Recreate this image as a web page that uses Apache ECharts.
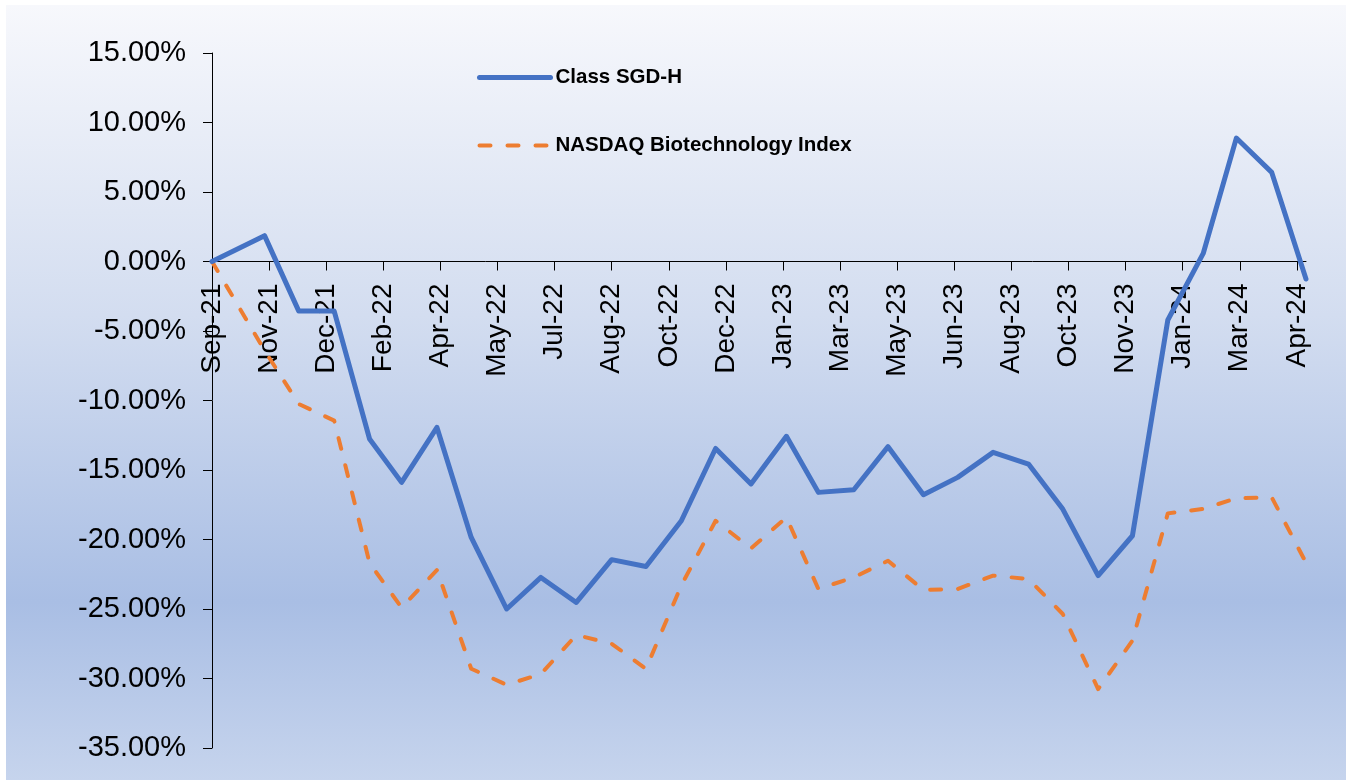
<!DOCTYPE html>
<html>
<head>
<meta charset="utf-8">
<title>Class SGD-H vs NASDAQ Biotechnology Index</title>
<script src="https://cdn.jsdelivr.net/npm/echarts@6/dist/echarts.min.js"></script>
<style>
  html, body { margin: 0; padding: 0; background: #ffffff; }
  #chart { width: 1352px; height: 780px; }
</style>
</head>
<body>
<div id="chart"></div>
<script>
// Month-end observation dates (first point is the start date of the series)
const dates = [
  '2021-09-15', '2021-10-31', '2021-11-30', '2021-12-31',
  '2022-01-31', '2022-02-28', '2022-03-31', '2022-04-30', '2022-05-31', '2022-06-30',
  '2022-07-31', '2022-08-31', '2022-09-30', '2022-10-31', '2022-11-30', '2022-12-31',
  '2023-01-31', '2023-02-28', '2023-03-31', '2023-04-30', '2023-05-31', '2023-06-30',
  '2023-07-31', '2023-08-31', '2023-09-30', '2023-10-31', '2023-11-30', '2023-12-31',
  '2024-01-31', '2024-02-29', '2024-03-31', '2024-04-30'
];

// Cumulative performance, in percent
const classSgdH = [
  0.00, 1.86, -3.57, -3.57,
  -12.77, -15.89, -11.94, -19.85, -25.00, -22.73,
  -24.53, -21.45, -21.94, -18.65, -13.45, -16.00,
  -12.58, -16.61, -16.42, -13.32, -16.78, -15.53,
  -13.73, -14.57, -17.81, -22.60, -19.73, -4.21,
  0.58, 8.88, 6.41, -1.26
];

const nasdaqBiotech = [
  0.00, -6.40, -10.25, -11.45,
  -21.70, -24.90, -22.20, -29.30, -30.45, -29.68,
  -26.87, -27.50, -29.30, -23.30, -18.65, -20.64,
  -18.41, -23.56, -22.72, -21.53, -23.63, -23.56,
  -22.60, -22.84, -25.36, -30.76, -27.28, -18.12,
  -17.80, -17.03, -16.97, -21.67
];

// Date-axis tick labels, one every 50 days from the axis start
const tickLabels = [
  'Sep-21', 'Nov-21', 'Dec-21', 'Feb-22', 'Apr-22', 'May-22', 'Jul-22',
  'Aug-22', 'Oct-22', 'Dec-22', 'Jan-23', 'Mar-23', 'May-23', 'Jun-23',
  'Aug-23', 'Oct-23', 'Nov-23', 'Jan-24', 'Mar-24', 'Apr-24'
];
const tickStepDays = 50;

const yMin = -35, yMax = 15, yStep = 5;

const seriesNames = ['Class SGD-H', 'NASDAQ Biotechnology Index'];

// The x axis counts days elapsed since the first date
const DAY = 24 * 3600 * 1000;
function toDayNumber(s) {
  const p = s.split('-').map(Number);
  return Math.round(Date.UTC(p[0], p[1] - 1, p[2]) / DAY);
}
const day0 = toDayNumber(dates[0]);
const dayOffsets = dates.map(d => toDayNumber(d) - day0);
const axisEndDays = dayOffsets[dayOffsets.length - 1];
const tickDays = tickLabels.map((_, i) => i * tickStepDays);

function pairs(values) {
  return dayOffsets.map((x, i) => [x, values[i]]);
}

const FONT = '"Liberation Sans", Arial, sans-serif';

const chart = echarts.init(document.getElementById('chart'), null, { renderer: 'canvas' });

chart.setOption({
  animation: false,
  backgroundColor: '#ffffff',
  graphic: [{
    type: 'rect',
    z: -10,
    silent: true,
    shape: { x: 6, y: 5, width: 1340, height: 775 },
    style: {
      fill: new echarts.graphic.LinearGradient(0, 0, 0, 1, [
        { offset: 0, color: '#f7f8fc' },
        { offset: 0.4, color: '#d3ddf0' },
        { offset: 0.77, color: '#a9bee4' },
        { offset: 1, color: '#c6d4ed' }
      ])
    }
  }],
  legend: {
    orient: 'vertical',
    left: 477,
    top: 67,
    padding: 0,
    itemWidth: 71,
    itemHeight: 14,
    itemGap: 47,
    itemStyle: { opacity: 0 },
    lineStyle: { width: 'inherit', cap: 'round' },
    textStyle: { fontFamily: FONT, fontSize: 20.5, fontWeight: 'bold', color: '#000' },
    data: seriesNames
  },
  grid: {
    left: 212, right: 46, top: 53, bottom: 32,
    containLabel: false,
    outerBoundsMode: 'none'
  },
  xAxis: {
    type: 'value',
    min: 0,
    max: axisEndDays,
    interval: tickStepDays,
    splitLine: { show: false },
    axisLine: { onZero: false, lineStyle: { color: '#000', width: 1 } },
    axisTick: {
      show: true, inside: false, length: 9,
      lineStyle: { color: '#000', width: 1 },
      customValues: tickDays
    },
    axisLabel: {
      rotate: 90,
      margin: 22,
      fontFamily: FONT,
      fontSize: 28,
      color: '#000',
      customValues: tickDays,
      formatter: function (value) {
        const i = Math.round(value / tickStepDays);
        return tickLabels[i] || '';
      }
    }
  },
  yAxis: {
    type: 'value',
    min: yMin,
    max: yMax,
    interval: yStep,
    splitLine: { show: false },
    axisLine: { show: true, lineStyle: { color: '#000', width: 1 } },
    axisTick: { show: true, inside: false, length: 9, lineStyle: { color: '#000', width: 1 } },
    axisLabel: {
      margin: 26,
      fontFamily: FONT,
      fontSize: 29,
      color: '#000',
      formatter: v => v.toFixed(2) + '%'
    }
  },
  series: [
    {
      name: seriesNames[0],
      type: 'line',
      symbol: 'none',
      data: pairs(classSgdH),
      lineStyle: { color: '#4472c4', width: 5, cap: 'round', join: 'round' },
      itemStyle: { color: '#4472c4' },
      z: 3
    },
    {
      name: seriesNames[1],
      type: 'line',
      symbol: 'none',
      data: pairs(nasdaqBiotech),
      lineStyle: { color: '#ed7d31', width: 4, type: [11, 17], cap: 'round', join: 'round' },
      itemStyle: { color: '#ed7d31' },
      z: 2
    }
  ]
});

// Lift the date axis (line, ticks and labels together) up to the 0% level
const zeroPx = chart.convertToPixel({ yAxisIndex: 0 }, 0);
const bottomPx = chart.convertToPixel({ yAxisIndex: 0 }, yMin);
chart.setOption({ xAxis: { offset: zeroPx - bottomPx } });
</script>
</body>
</html>
